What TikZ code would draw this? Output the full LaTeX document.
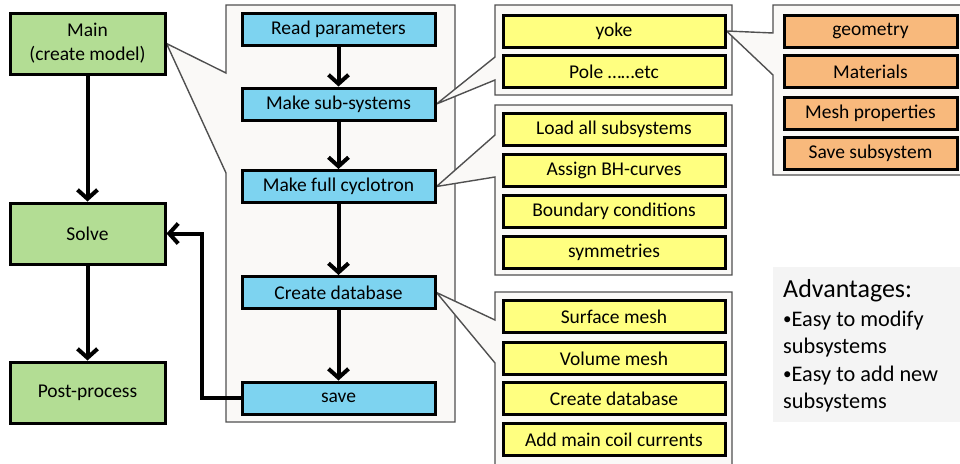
\documentclass[tikz,border=0pt]{standalone}
\usepackage{fontspec}
\setmainfont{Carlito}
\usetikzlibrary{arrows.meta,backgrounds}
\definecolor{cgreen}{HTML}{B3DD94}
\definecolor{cblue}{HTML}{7DD3F0}
\definecolor{cyellow}{HTML}{FFFF80}
\definecolor{corange}{HTML}{F8B97C}
\definecolor{cpanel}{HTML}{FAF9F7}
\definecolor{cpanelline}{HTML}{505050}
\definecolor{cadv}{HTML}{F4F4F4}
\newcommand{\smallbullet}{\raisebox{1.8pt}{\fontsize{17}{17}\selectfont •}}
\tikzset{
  box/.style={draw=black, line width=3pt, inner sep=0pt, font=\fontsize{19.5}{24}\selectfont, align=center},
  gbox/.style={box, fill=cgreen, minimum width=155pt, minimum height=61pt},
  bbox/.style={box, fill=cblue, minimum width=193pt, minimum height=32pt},
  ybox/.style={box, fill=cyellow, minimum width=222pt, minimum height=32pt},
  obox/.style={box, fill=corange, minimum width=173pt, minimum height=32pt},
  panel/.style={draw=cpanelline, fill=cpanel, line width=1.4pt, line join=miter},
  arr/.style={draw=black, line width=4pt, -{Straight Barb[length=9pt,width=20pt,line width=4pt]}},
}
\begin{document}
\begin{tikzpicture}[x=1pt,y=-1pt]
\useasboundingbox (0,0) rectangle (960,463);
% green column
\node[gbox] (main) at (87.5,43.5) {Main\\(create model)};
\node[gbox] (solve) at (87.5,233.5) {Solve};
\node[gbox] (post) at (87.5,392.5) {Post-process};
% blue column
\node[bbox] (read) at (338.5,29) {Read parameters};
\node[bbox] (msub) at (338.5,104) {Make sub-systems};
\node[bbox] (mfull) at (338.5,186.5) {Make full cyclotron};
\node[bbox] (cdb) at (338.5,292.5) {Create database};
\node[bbox] (save) at (338.5,398) {save};
% yellow
\node[ybox] (yoke) at (614,31) {yoke};
\node[ybox] (pole) at (614,71.5) {Pole ……etc};
\node[ybox] (load) at (614,129) {Load all subsystems};
\node[ybox] (assign) at (614,170) {Assign BH-curves};
\node[ybox] (bound) at (614,211) {Boundary conditions};
\node[ybox] (symm) at (614,252) {symmetries};
\node[ybox] (surf) at (614,316.5) {Surface mesh};
\node[ybox] (vol) at (614,358.5) {Volume mesh};
\node[ybox] (cdbtwo) at (614,398.5) {Create database};
\node[ybox] (coil) at (614,439.5) {Add main coil currents};
% orange
\node[obox] (geom) at (870.5,31) {geometry};
\node[obox] (mat) at (870.5,71.5) {Materials};
\node[obox] (mesh) at (870.5,113) {Mesh properties};
\node[obox] (savesub) at (870.5,153.5) {Save subsystem};
% panels (callouts)
\begin{pgfonlayer}{background}
\draw[panel] (226,5) -- (455,5) -- (455,422) -- (226,422) -- (226,173) -- (main.east) -- (226,73) -- cycle;
\draw[panel] (495,5) -- (732,5) -- (732,95) -- (495,95) -- (495,80) -- (msub.east) -- (495,57) -- cycle;
\draw[panel] (495,105) -- (732,105) -- (732,275) -- (495,275) -- (495,177) -- (mfull.east) -- (495,135) -- cycle;
\draw[panel] (495,292) -- (732,292) -- (732,470) -- (495,470) -- (495,363) -- (cdb.east) -- (495,320) -- cycle;
\draw[panel] (773,5) -- (966,5) -- (966,175) -- (773,175) -- (773,75) -- (yoke.east) -- (773,33) -- cycle;
\fill[cadv] (773,267) rectangle (966,422);
\end{pgfonlayer}
% advantages
\node[anchor=base west, inner sep=0pt, font=\fontsize{26}{30}\selectfont] (advhead) at (783,297) {Advantages:};
\node[anchor=north west, inner sep=0pt, align=left, font=\fontsize{22.3}{27.3}\selectfont] (advlist) at (783,311) {\smallbullet Easy to modify\\subsystems\\\smallbullet Easy to add new\\subsystems};
% arrows
\draw[arr] (main.south) -- (solve.north);
\draw[arr] (solve.south) -- (post.north);
\draw[arr] (read.south) -- (msub.north);
\draw[arr] (msub.south) -- (mfull.north);
\draw[arr] (mfull.south) -- (cdb.north);
\draw[arr] (cdb.south) -- (save.north);
\draw[arr] (save.west) -- ++(-39,0) |- (solve.east);
\end{tikzpicture}
\end{document}
